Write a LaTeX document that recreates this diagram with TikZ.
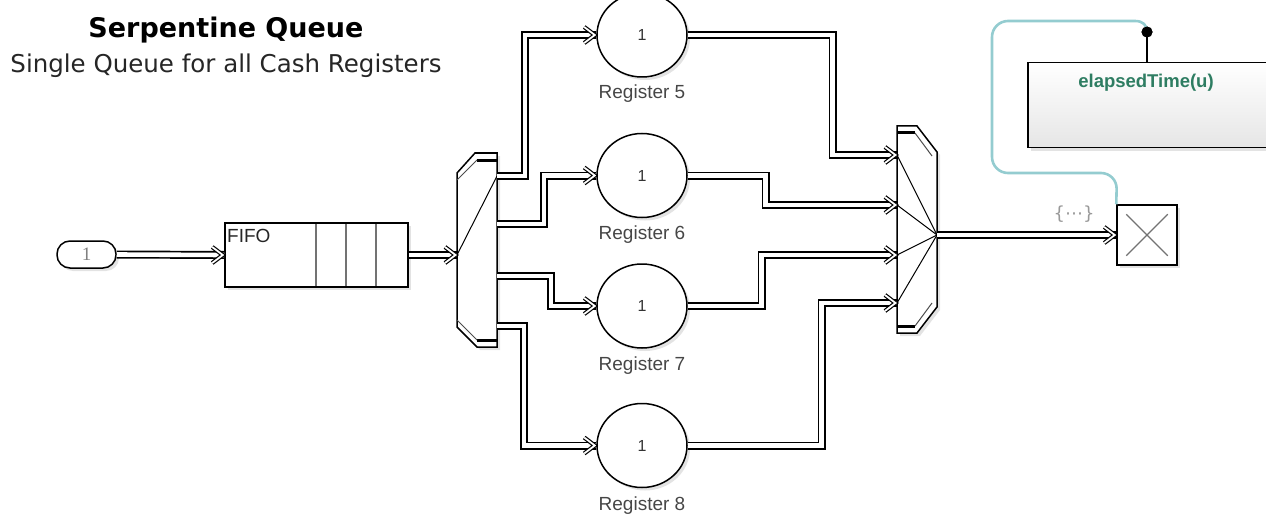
\documentclass[tikz,border=0pt]{standalone}
\usepackage{fontspec}
\setmainfont{Liberation Sans}
\newfontfamily\titlefont{DejaVu Sans}
\newfontfamily\serifone{Liberation Serif}
\usetikzlibrary{shapes.geometric,shadows,calc}
\definecolor{wireblue}{RGB}{148,204,208}
\definecolor{fcngreen}{RGB}{46,125,98}
\definecolor{labelgray}{RGB}{70,70,70}
\newcommand\regfont{\fontsize{19}{22}\selectfont}
\begin{document}
\begin{tikzpicture}[x=1pt,y=-1pt,
  conn/.style={double=white, line width=1.7pt, double distance=4.6pt, line join=miter},
  blk/.style={draw=black, line width=1.5pt, fill=white,
     drop shadow={shadow xshift=3pt, shadow yshift=-3pt, opacity=.22}},
  reg/.style={blk, ellipse, minimum width=90pt, minimum height=84pt, inner sep=0pt,
     font=\fontsize{16}{18}\selectfont, text=black!80},
  reglabel/.style={anchor=base, font=\regfont, text=labelgray, inner sep=0pt},
  fan/.style={line width=1pt},
  bevel/.style={line width=3pt},
  bevelthin/.style={line width=1pt, black!70},
  wire/.style={wireblue, line width=2.6pt},
  chev/.pic={\draw[double=white, line width=1.2pt, double distance=1.8pt, line join=miter]
     (-12,-8) -- (-1.5,0) -- (-12,8);}
]
\useasboundingbox (0,0) rectangle (1266,516);

% titles
\node[anchor=base, inner sep=0pt, font=\titlefont\bfseries\fontsize{27}{30}\selectfont]
  (title) at (226,38) {Serpentine Queue};
\node[anchor=base, inner sep=0pt, text=black!85, font=\titlefont\fontsize{24.5}{28}\selectfont]
  (subtitle) at (226,73) {Single Queue for all Cash Registers};

% input port
\node[blk, rounded corners=13pt, minimum width=59pt, minimum height=27pt, inner sep=0pt,
  font=\serifone\fontsize{19}{21}\selectfont, text=black!50] (in) at (86.5,254.5) {1};

% FIFO queue
\node[blk, minimum width=183pt, minimum height=64pt, inner sep=0pt] (fifo) at (316.5,255) {};
\foreach \x in {316,346,376} \draw[black!55, line width=1.8pt] (\x,223.8) -- (\x,286.2);
\node[anchor=base west, inner sep=0pt, font=\regfont, text=black!85] (fifotxt) at (227,242) {FIFO};

% splitter
\draw[blk] (457,173) -- (475,153) -- (497,153) -- (497,347) -- (477,347) -- (457,327) -- cycle;
\draw[bevel] (477,160) -- (497,160);
\draw[bevelthin] (457,180) -- (477,160);
\draw[bevel] (477,340) -- (497,340);
\draw[bevelthin] (457,320) -- (477,340);
\coordinate (sIn) at (457,255);
\coordinate (s1) at (497,176);
\coordinate (s2) at (497,224);
\coordinate (s3) at (497,276);
\coordinate (s4) at (497,326);
\draw[fan] (sIn) -- (s1);

% registers
\node[reg] (r5) at (642,35) {1};
\node[reg] (r6) at (642,175.5) {1};
\node[reg] (r7) at (642,306) {1};
\node[reg] (r8) at (642,445.5) {1};
\node[reglabel] (l5) at (642,99) {Register 5};
\node[reglabel] (l6) at (642,239.5) {Register 6};
\node[reglabel] (l7) at (642,370) {Register 7};
\node[reglabel] (l8) at (642,510) {Register 8};

% merger
\draw[blk] (897,126) -- (917,126) -- (937,152) -- (937,307) -- (917,333) -- (897,333) -- cycle;
\draw[bevel] (897,133) -- (915,133);
\draw[bevelthin] (915,133) -- (932,156);
\draw[bevel] (897,326) -- (915,326);
\draw[bevelthin] (915,326) -- (932,303);
\coordinate (m1) at (897,155);
\coordinate (m2) at (897,205);
\coordinate (m3) at (897,255);
\coordinate (m4) at (897,303);
\coordinate (mOut) at (937,235);
\foreach \m in {m1,m2,m3,m4} \draw[fan] (\m) -- (mOut);

% blue wire, function block, terminator
\node[circle, fill=black, inner sep=0pt, minimum size=11pt] (dot) at (1147,32) {};
\node[blk, minimum size=60pt, inner sep=0pt] (term) at (1147,235) {};
\draw[wire] (dot.center) .. controls (1147,25) and (1143,21) .. (1135,21)
   [rounded corners=16pt] -- (992,21) -- (992,173) -- (1117,173) -- (term.north west);
\node[blk, top color=white, bottom color=black!10, minimum width=250pt, minimum height=85pt,
  inner sep=0pt, anchor=north west] (fcn) at (1027,62) {};
\node[anchor=base, inner sep=0pt, text=fcngreen, font=\bfseries\fontsize{18.5}{21}\selectfont]
  (fcntxt) at (1146,88) {elapsedTime(u)};
\draw[line width=1.5pt] (dot |- fcn.north) -- (dot.center);
\node[circle, fill=black, inner sep=0pt, minimum size=11pt] at (dot) {};
\draw[black!55, line width=1.1pt] ($(term.north west)+(10,10)$) -- ($(term.south east)+(-10,-10)$);
\draw[black!55, line width=1.1pt] ($(term.south west)+(10,-10)$) -- ($(term.north east)+(-10,10)$);
\node[inner sep=0pt, text=black!40, font=\titlefont\fontsize{18}{20}\selectfont]
  (busl) at (1074,214) {\{⋯\}};

% connectors
\draw[conn] (in.east) -- (fifo.west);
\draw[conn] (fifo.east) -- (sIn);
\draw[conn] (s1) -- ++(28,0) |- (r5.west);
\draw[conn] (s2) -- ++(47,0) |- (r6.west);
\draw[conn] (s3) -- ++(54,0) |- (r7.west);
\draw[conn] (s4) -- ++(27,0) |- (r8.west);
\draw[conn] (r5.east) -- ++(145,0) |- (m1);
\draw[conn] (r6.east) -- ++(78,0) |- (m2);
\draw[conn] (r7.east) -- ++(74,0) |- (m3);
\draw[conn] (r8.east) -- ++(134,0) |- (m4);
\draw[conn] (mOut) -- (term.west);

% arrowheads
\foreach \t in {fifo.west,sIn,r5.west,r6.west,r7.west,r8.west,m1,m2,m3,m4,term.west}
  \pic at (\t) {chev};
\end{tikzpicture}
\end{document}
